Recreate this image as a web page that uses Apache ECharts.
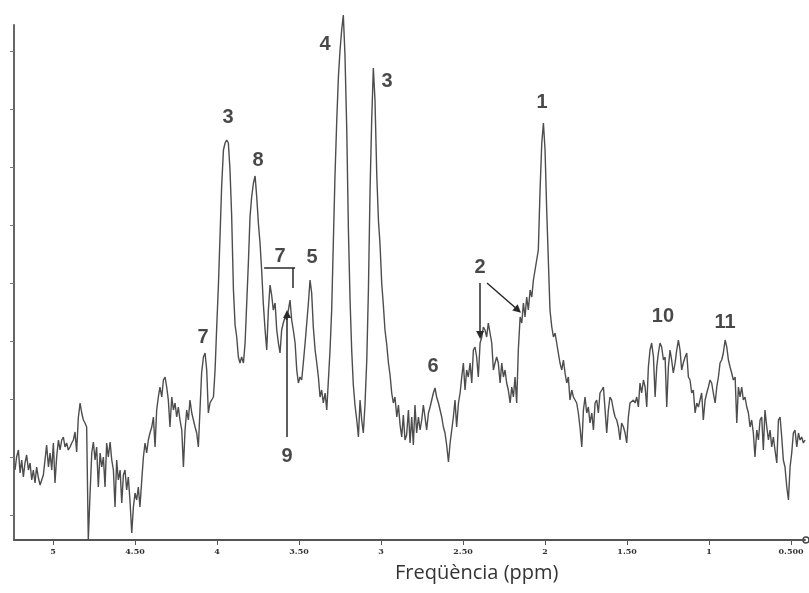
<!DOCTYPE html>
<html>
<head>
<meta charset="utf-8">
<title>Espectre</title>
<script src="https://cdn.jsdelivr.net/npm/echarts@6.0.0/dist/echarts.min.js"></script>
<style>
  html, body { margin: 0; padding: 0; background: #fff; }
  #main { width: 809px; height: 593px; }
</style>
</head>
<body>
<div id="main"></div>
<script>
// desplaçament químic (ppm) de cada mostra
var ppm = [
  5.232, 5.222, 5.211, 5.201,
  5.191, 5.181, 5.171, 5.161, 5.150, 5.140, 5.130, 5.120, 5.110, 5.100,
  5.089, 5.079, 5.069, 5.059, 5.049, 5.039, 5.028, 5.018, 5.008, 4.998,
  4.988, 4.978, 4.967, 4.957, 4.947, 4.937, 4.927, 4.917, 4.907, 4.896,
  4.886, 4.876, 4.866, 4.856, 4.846, 4.835, 4.825, 4.815, 4.805, 4.795,
  4.785, 4.774, 4.764, 4.754, 4.744, 4.734, 4.724, 4.713, 4.703, 4.693,
  4.683, 4.673, 4.663, 4.652, 4.642, 4.632, 4.622, 4.612, 4.602, 4.591,
  4.581, 4.571, 4.561, 4.551, 4.541, 4.531, 4.520, 4.510, 4.500, 4.490,
  4.480, 4.470, 4.459, 4.449, 4.439, 4.429, 4.419, 4.409, 4.398, 4.388,
  4.378, 4.368, 4.358, 4.348, 4.337, 4.327, 4.317, 4.307, 4.297, 4.287,
  4.276, 4.266, 4.256, 4.246, 4.236, 4.226, 4.215, 4.205, 4.195, 4.185,
  4.175, 4.165, 4.154, 4.144, 4.134, 4.124, 4.114, 4.104, 4.094, 4.083,
  4.073, 4.063, 4.053, 4.043, 4.033, 4.022, 4.012, 4.002, 3.992, 3.982,
  3.972, 3.961, 3.951, 3.941, 3.931, 3.921, 3.911, 3.900, 3.890, 3.880,
  3.870, 3.860, 3.850, 3.839, 3.829, 3.819, 3.809, 3.799, 3.789, 3.778,
  3.768, 3.758, 3.748, 3.738, 3.728, 3.718, 3.707, 3.697, 3.687, 3.677,
  3.667, 3.657, 3.646, 3.636, 3.626, 3.616, 3.606, 3.596, 3.585, 3.575,
  3.565, 3.555, 3.545, 3.535, 3.524, 3.514, 3.504, 3.494, 3.484, 3.474,
  3.463, 3.453, 3.443, 3.433, 3.423, 3.413, 3.402, 3.392, 3.382, 3.372,
  3.362, 3.352, 3.341, 3.331, 3.321, 3.311, 3.301, 3.291, 3.281, 3.270,
  3.260, 3.250, 3.240, 3.230, 3.220, 3.209, 3.199, 3.189, 3.179, 3.169,
  3.159, 3.148, 3.138, 3.128, 3.118, 3.108, 3.098, 3.087, 3.077, 3.067,
  3.057, 3.047, 3.037, 3.026, 3.016, 3.006, 2.996, 2.986, 2.976, 2.965,
  2.955, 2.945, 2.935, 2.925, 2.915, 2.904, 2.894, 2.884, 2.874, 2.864,
  2.854, 2.844, 2.833, 2.823, 2.813, 2.803, 2.793, 2.783, 2.772, 2.762,
  2.752, 2.742, 2.732, 2.722, 2.711, 2.701, 2.691, 2.681, 2.671, 2.661,
  2.650, 2.640, 2.630, 2.620, 2.610, 2.600, 2.589, 2.579, 2.569, 2.559,
  2.549, 2.539, 2.528, 2.518, 2.508, 2.498, 2.488, 2.478, 2.468, 2.457,
  2.447, 2.437, 2.427, 2.417, 2.407, 2.396, 2.386, 2.376, 2.366, 2.356,
  2.346, 2.335, 2.325, 2.315, 2.305, 2.295, 2.285, 2.274, 2.264, 2.254,
  2.244, 2.234, 2.224, 2.213, 2.203, 2.193, 2.183, 2.173, 2.163, 2.152,
  2.142, 2.132, 2.122, 2.112, 2.102, 2.091, 2.081, 2.071, 2.061, 2.051,
  2.041, 2.031, 2.020, 2.010, 2.000, 1.990, 1.980, 1.970, 1.959, 1.949,
  1.939, 1.929, 1.919, 1.909, 1.898, 1.888, 1.878, 1.868, 1.858, 1.848,
  1.837, 1.827, 1.817, 1.807, 1.797, 1.787, 1.776, 1.766, 1.756, 1.746,
  1.736, 1.726, 1.715, 1.705, 1.695, 1.685, 1.675, 1.665, 1.654, 1.644,
  1.634, 1.624, 1.614, 1.604, 1.594, 1.583, 1.573, 1.563, 1.553, 1.543,
  1.533, 1.522, 1.512, 1.502, 1.492, 1.482, 1.472, 1.461, 1.451, 1.441,
  1.431, 1.421, 1.411, 1.400, 1.390, 1.380, 1.370, 1.360, 1.350, 1.339,
  1.329, 1.319, 1.309, 1.299, 1.289, 1.278, 1.268, 1.258, 1.248, 1.238,
  1.228, 1.218, 1.207, 1.197, 1.187, 1.177, 1.167, 1.157, 1.146, 1.136,
  1.126, 1.116, 1.106, 1.096, 1.085, 1.075, 1.065, 1.055, 1.045, 1.035,
  1.024, 1.014, 1.004, 0.994, 0.984, 0.974, 0.963, 0.953, 0.943, 0.933,
  0.923, 0.913, 0.902, 0.892, 0.882, 0.872, 0.862, 0.852, 0.841, 0.831,
  0.821, 0.811, 0.801, 0.791, 0.781, 0.770, 0.760, 0.750, 0.740, 0.730,
  0.720, 0.709, 0.699, 0.689, 0.679, 0.669, 0.659, 0.648, 0.638, 0.628,
  0.618, 0.608, 0.598, 0.587, 0.577, 0.567, 0.557, 0.547, 0.537, 0.526,
  0.516, 0.506, 0.496, 0.486, 0.476, 0.465, 0.455, 0.445, 0.435, 0.425,
  0.415
];

// intensitat del senyal (u.a.), llegida punt a punt
var intensity = [
  70, 83, 90, 67,
  80, 63, 77, 85, 70, 77, 60, 70, 57, 73,
  62, 55, 57, 65, 80, 95, 73, 87, 70, 97,
  57, 83, 100, 90, 100, 103, 93, 97, 90, 93,
  97, 100, 108, 88, 122, 137, 127, 120, 117, 113,
  0, 47, 87, 98, 80, 93, 53, 87, 73, 83,
  53, 97, 83, 98, 80, 70, 33, 80, 60, 70,
  37, 65, 70, 50, 63, 40, 7, 33, 47, 40,
  53, 33, 60, 83, 97, 87, 100, 107, 113, 123,
  93, 130, 143, 153, 143, 160, 163, 153, 140, 113,
  143, 130, 137, 123, 133, 120, 110, 73, 110, 130,
  120, 140, 127, 120, 113, 107, 93, 130, 167, 183,
  187, 170, 127, 137, 140, 143, 170, 213, 253, 303,
  353, 390, 397, 400, 397, 370, 325, 250, 215, 203,
  183, 177, 183, 177, 197, 237, 277, 323, 343, 357,
  364, 343, 317, 297, 270, 237, 210, 190, 230, 255,
  245, 230, 237, 210, 197, 187, 210, 217, 223, 220,
  230, 240, 220, 210, 197, 170, 157, 163, 160, 177,
  197, 217, 237, 260, 247, 213, 190, 177, 163, 143,
  150, 137, 147, 130, 160, 190, 230, 297, 363, 420,
  463, 490, 510, 525, 485, 410, 310, 240, 190, 155,
  135, 120, 103, 140, 120, 107, 135, 180, 250, 350,
  420, 472, 440, 365, 320, 295, 257, 235, 210, 195,
  177, 165, 147, 137, 143, 123, 135, 115, 103, 125,
  100, 105, 130, 97, 123, 95, 135, 107, 123, 110,
  120, 135, 123, 110, 127, 133, 140, 147, 152, 143,
  137, 130, 123, 113, 107, 95, 78, 97, 110, 123,
  140, 113, 137, 147, 163, 177, 150, 170, 163, 177,
  157, 190, 193, 183, 163, 197, 203, 213, 210, 203,
  217, 217, 197, 170, 177, 183, 177, 157, 177, 163,
  170, 157, 150, 137, 153, 143, 163, 137, 190, 223,
  217, 237, 223, 243, 230, 250, 243, 260, 270, 280,
  290, 347, 397, 417, 390, 330, 280, 230, 213, 203,
  207, 197, 187, 177, 170, 180, 167, 157, 163, 140,
  150, 143, 140, 137, 127, 113, 93, 130, 143, 127,
  133, 117, 127, 110, 137, 140, 127, 147, 150, 153,
  130, 107, 130, 143, 140, 130, 123, 120, 113, 100,
  117, 113, 107, 97, 123, 137, 137, 140, 137, 143,
  133, 157, 147, 160, 153, 133, 173, 190, 197, 183,
  143, 173, 187, 197, 193, 180, 183, 133, 173, 190,
  180, 167, 177, 190, 200, 190, 170, 177, 183, 187,
  163, 160, 147, 150, 127, 137, 133, 140, 147, 120,
  140, 147, 153, 160, 157, 147, 137, 153, 163, 177,
  180, 187, 200, 193, 180, 173, 167, 160, 163, 117,
  153, 143, 153, 140, 143, 133, 127, 113, 120, 107,
  83, 110, 100, 120, 123, 90, 130, 113, 100, 110,
  93, 103, 90, 77, 120, 123, 103, 80, 73, 53,
  40, 73, 87, 107, 110, 93, 107, 100, 103, 97,
  100
];

var xTicks = [5, 4.5, 4, 3.5, 3, 2.5, 2, 1.5, 1, 0.5];
var xTickLabels = ['5', '4.50', '4', '3.50', '3', '2.50', '2', '1.50', '1', '0.500'];
var yTicks = [25, 83, 141, 199, 257, 315, 373, 431, 489];

// etiquetes dels metabòlits
var peakText = ['3', '8', '4', '3', '7', '5', '7', '9', '6', '2', '1', '10', '11'];
var peakPpm = [3.933, 3.750, 3.341, 2.963, 3.616, 3.421, 4.085, 3.573, 2.683, 2.396, 2.018, 1.281, 0.902];
var peakValue = [423, 380, 496, 459, 284, 283, 203, 84, 174, 273, 438, 224, 218];

// fletxes i claudàtor: [ppm inici, valor inici, ppm final, valor final, punta]
var arrows = [
  [3.713, 272, 3.524, 272, 0],
  [3.537, 272, 3.537, 252, 0],
  [3.573, 103, 3.573, 226, 1],
  [2.396, 257, 2.396, 205, 1],
  [2.354, 257, 2.165, 230, 1]
];

var chart = echarts.init(document.getElementById('main'));

var option = {
  animation: false,
  backgroundColor: '#fff',
  grid: { left: 14, right: 4, top: 25, bottom: 53 },
  xAxis: {
    type: 'value',
    inverse: true,
    min: 0.415,
    max: 5.238,
    axisLine: { lineStyle: { color: '#555', width: 2 } },
    axisTick: { show: true, customValues: xTicks, length: 5, lineStyle: { color: '#555', width: 1 } },
    axisLabel: {
      customValues: xTicks,
      margin: 8,
      fontSize: 8,
      fontWeight: 'bold',
      fontFamily: 'DejaVu Serif',
      color: '#333',
      formatter: function (v) {
        for (var i = 0; i < xTicks.length; i++) {
          if (Math.abs(xTicks[i] - v) < 1e-6) return xTickLabels[i];
        }
        return '';
      }
    },
    splitLine: { show: false }
  },
  yAxis: {
    type: 'value',
    min: 0,
    max: 515,
    axisLine: { show: true, lineStyle: { color: '#666', width: 2 } },
    axisTick: { show: true, customValues: yTicks, length: 4, lineStyle: { color: '#777' } },
    axisLabel: { show: false },
    splitLine: { show: false }
  },
  series: [
    {
      type: 'line',
      data: ppm.map(function (p, i) { return [p, intensity[i]]; }),
      showSymbol: false,
      clip: false,
      lineStyle: { color: '#4d4d4d', width: 1.4 },
      z: 2
    },
    {
      type: 'scatter',
      symbolSize: 0,
      silent: true,
      data: peakText.map(function (t, i) {
        return { name: t, value: [peakPpm[i], peakValue[i]] };
      }),
      label: {
        show: true,
        position: 'inside',
        formatter: '{b}',
        fontSize: 20,
        fontWeight: 'bold',
        fontFamily: 'Liberation Sans, Arial, sans-serif',
        color: '#1a1a1a'
      },
      markLine: {
        silent: true,
        animation: false,
        symbolSize: 8,
        label: { show: false },
        lineStyle: { color: '#2a2a2a', width: 1.5, type: 'solid' },
        emphasis: { disabled: true },
        data: arrows.map(function (a) {
          return [
            { coord: [a[0], a[1]], symbol: 'none' },
            { coord: [a[2], a[3]], symbol: a[4] ? 'triangle' : 'none' }
          ];
        })
      },
      z: 3
    }
  ],
  graphic: [
    {
      type: 'text',
      left: 485 - 90,
      top: 563,
      style: {
        text: 'Freqüència (ppm)',
        font: '20px "Open Sans", sans-serif',
        fill: '#333'
      }
    },
    {
      type: 'circle',
      shape: { cx: 806, cy: 540, r: 3 },
      style: { fill: '#fff', stroke: '#444', lineWidth: 1.5 }
    }
  ]
};

chart.setOption(option);
</script>
</body>
</html>
